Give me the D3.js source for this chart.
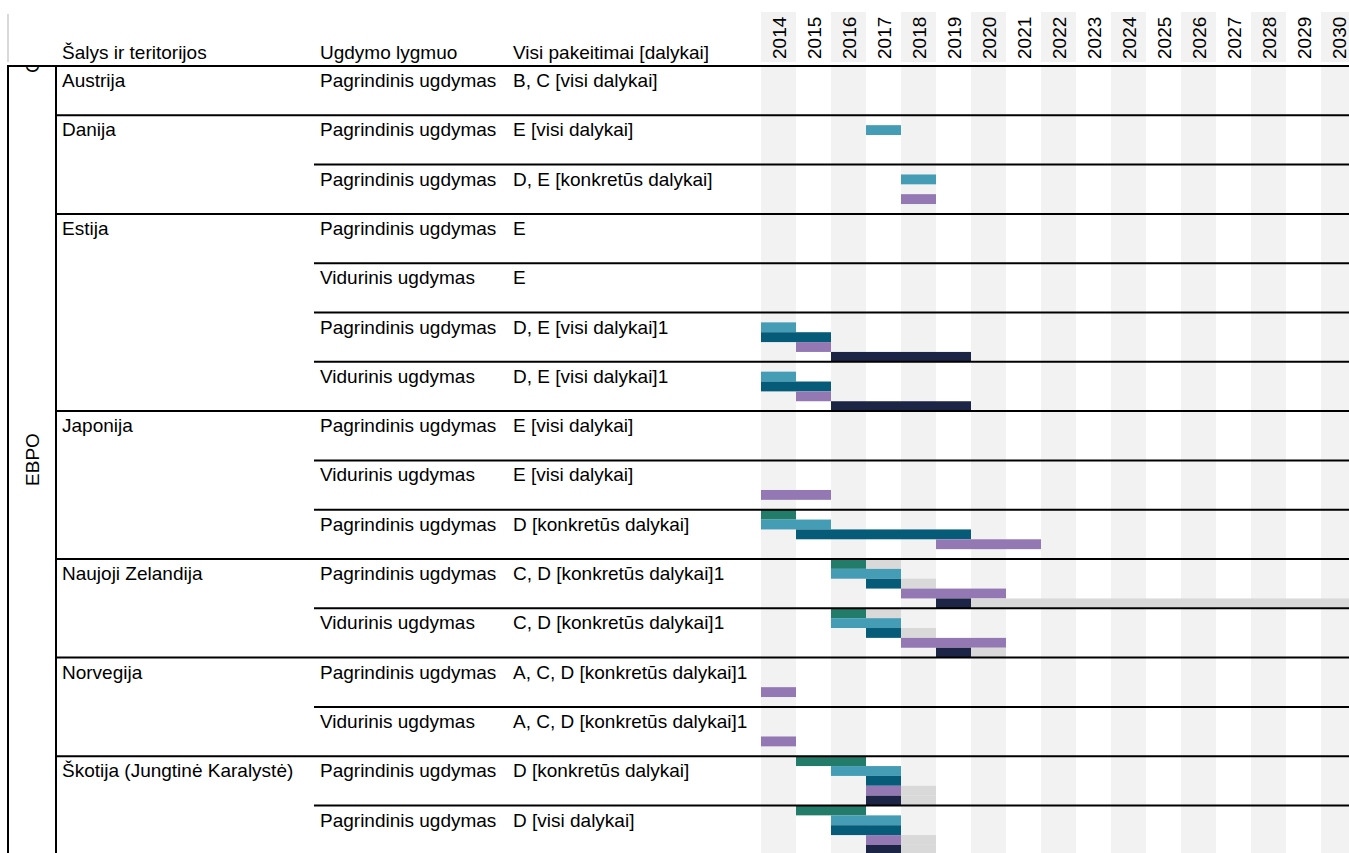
<!DOCTYPE html>
<html>
<head>
<meta charset="utf-8">
<script src="https://cdn.jsdelivr.net/npm/d3@7"></script>
<style>
  body { margin: 0; background: #fff; }
  text { font-family: "Liberation Sans", Arial, sans-serif; font-size: 19px; fill: #000; }
</style>
</head>
<body>
<script>
// timeline table: country / level / changes + year bars

const years = [2014, 2015, 2016, 2017, 2018, 2019, 2020, 2021, 2022, 2023, 2024, 2025, 2026, 2027, 2028, 2029, 2030];

const headers = ["Šalys ir teritorijos", "Ugdymo lygmuo", "Visi pakeitimai [dalykai]"];

const countries = [
  "Austrija",
  "Danija",
  "Estija",
  "Japonija",
  "Naujoji Zelandija",
  "Norvegija",
  "Škotija (Jungtinė Karalystė)",
];

// which country each table row belongs to
const rowCountry = [0, 1, 1, 2, 2, 2, 2, 3, 3, 3, 4, 4, 5, 5, 6, 6];

const rowLevel = [
  "Pagrindinis ugdymas",
  "Pagrindinis ugdymas",
  "Pagrindinis ugdymas",
  "Pagrindinis ugdymas",
  "Vidurinis ugdymas",
  "Pagrindinis ugdymas",
  "Vidurinis ugdymas",
  "Pagrindinis ugdymas",
  "Vidurinis ugdymas",
  "Pagrindinis ugdymas",
  "Pagrindinis ugdymas",
  "Vidurinis ugdymas",
  "Pagrindinis ugdymas",
  "Vidurinis ugdymas",
  "Pagrindinis ugdymas",
  "Pagrindinis ugdymas",
];

const rowChanges = [
  "B, C [visi dalykai]",
  "E [visi dalykai]",
  "D, E [konkretūs dalykai]",
  "E",
  "E",
  "D, E [visi dalykai]1",
  "D, E [visi dalykai]1",
  "E [visi dalykai]",
  "E [visi dalykai]",
  "D [konkretūs dalykai]",
  "C, D [konkretūs dalykai]1",
  "C, D [konkretūs dalykai]1",
  "A, C, D [konkretūs dalykai]1",
  "A, C, D [konkretūs dalykai]1",
  "D [konkretūs dalykai]",
  "D [visi dalykai]",
];

const regionLabel = "EBPO";

// phase lanes inside each row, top to bottom
const phases = [0, 1, 2, 3, 4];
const phaseColors = ["#237b69", "#459db5", "#065c78", "#9378b3", "#1c2545"];

// [row, phase, first year, last year, continued?]
const bars = [
  [1, 1, 2017, 2017, 0],
  [2, 1, 2018, 2018, 0],
  [2, 3, 2018, 2018, 0],
  [5, 1, 2014, 2014, 0],
  [5, 2, 2014, 2015, 0],
  [5, 3, 2015, 2015, 0],
  [5, 4, 2016, 2019, 0],
  [6, 1, 2014, 2014, 0],
  [6, 2, 2014, 2015, 0],
  [6, 3, 2015, 2015, 0],
  [6, 4, 2016, 2019, 0],
  [8, 3, 2014, 2015, 0],
  [9, 0, 2014, 2014, 0],
  [9, 1, 2014, 2015, 0],
  [9, 2, 2015, 2019, 0],
  [9, 3, 2019, 2021, 0],
  [10, 0, 2016, 2016, 0],
  [10, 0, 2017, 2017, 1],
  [10, 1, 2016, 2017, 0],
  [10, 2, 2017, 2017, 0],
  [10, 2, 2018, 2018, 1],
  [10, 3, 2018, 2020, 0],
  [10, 4, 2019, 2019, 0],
  [10, 4, 2020, 2030, 1],
  [11, 0, 2016, 2016, 0],
  [11, 0, 2017, 2017, 1],
  [11, 1, 2016, 2017, 0],
  [11, 2, 2017, 2017, 0],
  [11, 2, 2018, 2018, 1],
  [11, 3, 2018, 2020, 0],
  [11, 4, 2019, 2019, 0],
  [11, 4, 2020, 2020, 1],
  [12, 3, 2014, 2014, 0],
  [13, 3, 2014, 2014, 0],
  [14, 0, 2015, 2016, 0],
  [14, 1, 2016, 2017, 0],
  [14, 2, 2017, 2017, 0],
  [14, 3, 2017, 2017, 0],
  [14, 3, 2018, 2018, 1],
  [14, 4, 2017, 2017, 0],
  [14, 4, 2018, 2018, 1],
  [15, 0, 2015, 2016, 0],
  [15, 1, 2016, 2017, 0],
  [15, 2, 2016, 2017, 0],
  [15, 3, 2017, 2017, 0],
  [15, 3, 2018, 2018, 1],
  [15, 4, 2017, 2017, 0],
  [15, 4, 2018, 2018, 1],
];

var width = 1349,
  height = 853;

var tableTop = 66,
  rowH = 49.3;
var colRegion = 8,
  colCountry = 56,
  colLevel = 314;
var textX = [62, 320, 513];

var svg = d3
  .select("body")
  .append("svg")
  .attr("width", width)
  .attr("height", height);

// scales
var x = d3
  .scaleBand()
  .domain(years)
  .range([761, 761 + years.length * 35]);

var y = d3
  .scaleBand()
  .domain(d3.range(rowLevel.length))
  .range([tableTop, tableTop + rowLevel.length * rowH]);

var lane = d3.scaleBand().domain(phases).range([0, y.bandwidth()]);

// striped year columns (header + body)
var stripes = years.filter((d, i) => i % 2 == 0);
svg
  .selectAll(".head-band")
  .data(stripes)
  .enter()
  .append("rect")
  .attr("x", (d) => x(d))
  .attr("y", 12)
  .attr("width", x.bandwidth())
  .attr("height", 50)
  .attr("fill", "#f2f2f2");

svg
  .selectAll(".body-band")
  .data(stripes)
  .enter()
  .append("rect")
  .attr("x", (d) => x(d))
  .attr("y", tableTop)
  .attr("width", x.bandwidth())
  .attr("height", height - tableTop)
  .attr("fill", "#f2f2f2");

// year labels, rotated
svg
  .selectAll(".year")
  .data(years)
  .enter()
  .append("text")
  .attr("transform", (d) => "translate(" + (x(d) + x.bandwidth() / 2 + 7) + ",59) rotate(-90)")
  .text((d) => d);

// bars
svg
  .selectAll(".bar")
  .data(bars)
  .enter()
  .append("rect")
  .attr("x", (d) => x(d[2]))
  .attr("y", (d) => y(d[0]) + lane(d[1]))
  .attr("width", (d) => x(d[3]) + x.bandwidth() - x(d[2]))
  .attr("height", lane.bandwidth())
  .attr("fill", (d) => (d[4] ? "#d9d9d9" : phaseColors[d[1]]));

// header texts
svg
  .selectAll(".hdr")
  .data(headers)
  .enter()
  .append("text")
  .attr("x", (d, i) => textX[i])
  .attr("y", 59)
  .text((d) => d);

// light line at the left of the header
svg
  .append("line")
  .attr("x1", colRegion)
  .attr("x2", colRegion)
  .attr("y1", 14)
  .attr("y2", 62)
  .attr("stroke", "#d9d9d9")
  .attr("stroke-width", 2);

// row texts
var rows = d3.range(rowLevel.length);
svg
  .selectAll(".country")
  .data(rows.filter((r) => r == 0 || rowCountry[r] != rowCountry[r - 1]))
  .enter()
  .append("text")
  .attr("x", textX[0])
  .attr("y", (r) => y(r) + 21)
  .text((r) => countries[rowCountry[r]]);

svg
  .selectAll(".level")
  .data(rows)
  .enter()
  .append("text")
  .attr("x", textX[1])
  .attr("y", (r) => y(r) + 21)
  .text((r) => rowLevel[r]);

svg
  .selectAll(".changes")
  .data(rows)
  .enter()
  .append("text")
  .attr("x", textX[2])
  .attr("y", (r) => y(r) + 21)
  .text((r) => rowChanges[r]);

// row separators: full width for a new country, from level column otherwise
svg
  .selectAll(".sep")
  .data(rows)
  .enter()
  .append("line")
  .attr("x1", (r) => (r == 0 ? colRegion : rowCountry[r] != rowCountry[r - 1] ? colCountry : colLevel))
  .attr("x2", width)
  .attr("y1", (r) => y(r))
  .attr("y2", (r) => y(r))
  .attr("stroke", "#000")
  .attr("stroke-width", 2);

// vertical lines
[colRegion, colCountry].forEach(function (cx) {
  svg
    .append("line")
    .attr("x1", cx)
    .attr("x2", cx)
    .attr("y1", tableTop - 1)
    .attr("y2", height)
    .attr("stroke", "#000")
    .attr("stroke-width", 2);
});

// region label
svg
  .append("text")
  .attr("transform", "translate(39," + (tableTop + (height - tableTop) / 2) + ") rotate(-90)")
  .attr("text-anchor", "middle")
  .text(regionLabel);

// leftover of the region label from the block above (only its edge shows)
svg
  .append("clipPath")
  .attr("id", "clipTop")
  .append("rect")
  .attr("x", colRegion + 1)
  .attr("y", tableTop + 1)
  .attr("width", colCountry - colRegion - 2)
  .attr("height", 10);

svg
  .append("g")
  .attr("clip-path", "url(#clipTop)")
  .append("text")
  .attr("transform", "translate(39,73) rotate(-90)")
  .text("C");
</script>
</body>
</html>
